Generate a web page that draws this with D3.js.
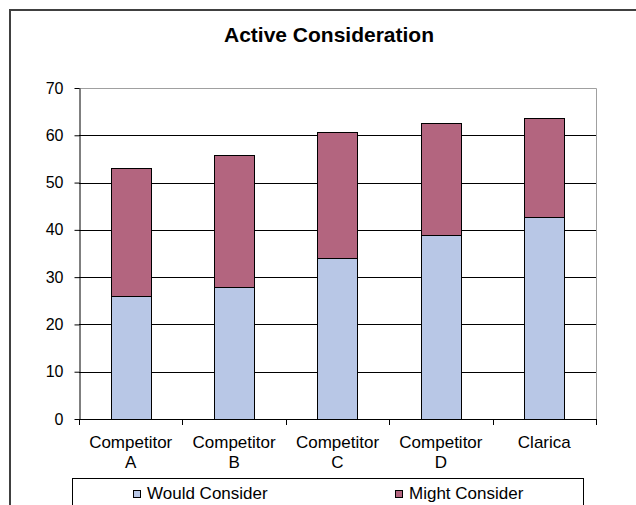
<!DOCTYPE html>
<html>
<head>
<meta charset="utf-8">
<script src="https://cdn.jsdelivr.net/npm/d3@7"></script>
<style>
  html, body { margin: 0; padding: 0; background: #fff; }
  svg { display: block; font-family: "Liberation Sans", Arial, sans-serif; }
</style>
</head>
<body>
<svg id="chart" width="636" height="505"></svg>
<script>
// Chart data
const categories = [["Competitor", "A"], ["Competitor", "B"], ["Competitor", "C"], ["Competitor", "D"], ["Clarica"]];
const wouldConsider = [26, 28, 34, 39, 42.8];
const mightConsider = [27, 27.8, 26.8, 23.6, 20.8];
const seriesNames = ["Would Consider", "Might Consider"];
const yTicks = [0, 10, 20, 30, 40, 50, 60, 70];
const title = "Active Consideration";

const colors = ["#b8c7e6", "#b3657f"];

const svg = d3.select("#chart");

// Outer frame of the chart (extends past the right and bottom edges)
svg.append("rect")
  .attr("x", 10).attr("y", 10)
  .attr("width", 700).attr("height", 600)
  .attr("fill", "#fff").attr("stroke", "#404040").attr("stroke-width", 2);

const plot = { left: 79, right: 596, top: 88, bottom: 419 };

const x = d3.scaleBand()
  .domain(d3.range(categories.length))
  .range([plot.left, plot.right])
  .paddingInner(0.61).paddingOuter(0.305);

const xOuter = d3.scaleBand()
  .domain(d3.range(categories.length))
  .range([plot.left, plot.right]);

const y = d3.scaleLinear().domain([0, 70]).range([plot.bottom, plot.top]);

// Title
svg.append("text")
  .attr("x", 329).attr("y", 42)
  .attr("text-anchor", "middle")
  .attr("font-size", 21).attr("font-weight", "bold")
  .attr("fill", "#000")
  .text(title);

// Plot area border (top and right in grey)
svg.append("path")
  .attr("d", `M${plot.left},${plot.top + 0.5}H${plot.right + 0.5}V${plot.bottom}`)
  .attr("fill", "none").attr("stroke", "#a0a0a0").attr("stroke-width", 1);

// Horizontal gridlines
svg.append("g")
  .selectAll("line")
  .data(yTicks.filter(t => t > 0 && t < 70))
  .join("line")
  .attr("x1", plot.left).attr("x2", plot.right)
  .attr("y1", d => Math.round(y(d)) + 0.5).attr("y2", d => Math.round(y(d)) + 0.5)
  .attr("stroke", "#000").attr("stroke-width", 1);

// Stacked bars
const stackData = categories.map((c, i) => ({ i, would: wouldConsider[i], might: mightConsider[i] }));
const stack = d3.stack().keys(["would", "might"])(stackData);

svg.append("g")
  .selectAll("g")
  .data(stack)
  .join("g")
  .attr("fill", (d, k) => colors[k])
  .selectAll("rect")
  .data(d => d)
  .join("rect")
  .attr("x", d => Math.round(x(d.data.i)) + 0.5)
  .attr("width", Math.round(x.bandwidth()))
  .attr("y", d => Math.round(y(d[1])) + 0.5)
  .attr("height", d => Math.round(y(d[0])) - Math.round(y(d[1])))
  .attr("stroke", "#000").attr("stroke-width", 1);

// Y axis
const yAxis = d3.axisLeft(y).tickValues(yTicks).tickSize(5).tickPadding(11).tickSizeOuter(0);
const gy = svg.append("g")
  .attr("transform", `translate(${plot.left + 0.5},0)`)
  .call(yAxis);
gy.select(".domain").attr("stroke", "#000");
gy.selectAll(".tick line").attr("stroke", "#000");
gy.selectAll(".tick text")
  .attr("font-size", 16).attr("fill", "#000")
  .attr("font-family", "Liberation Sans, Arial, sans-serif");

// X axis line and boundary ticks
svg.append("line")
  .attr("x1", plot.left).attr("x2", plot.right + 1)
  .attr("y1", plot.bottom + 0.5).attr("y2", plot.bottom + 0.5)
  .attr("stroke", "#000");
const bounds = d3.range(categories.length + 1).map(i => i < categories.length ? xOuter(i) : plot.right);
svg.append("g")
  .selectAll("line")
  .data(bounds)
  .join("line")
  .attr("x1", d => Math.round(d) + 0.5).attr("x2", d => Math.round(d) + 0.5)
  .attr("y1", plot.bottom).attr("y2", plot.bottom + 6)
  .attr("stroke", "#000");

// Category labels
const labels = svg.append("g")
  .selectAll("text")
  .data(categories)
  .join("text")
  .attr("x", (d, i) => xOuter(i) + xOuter.bandwidth() / 2)
  .attr("y", 448)
  .attr("text-anchor", "middle")
  .attr("font-size", 17).attr("fill", "#000");
labels.selectAll("tspan")
  .data(d => d)
  .join("tspan")
  .attr("x", function () { return d3.select(this.parentNode).attr("x"); })
  .attr("dy", (d, j) => j === 0 ? 0 : 20)
  .text(d => d);

// Legend
svg.append("rect")
  .attr("x", 72.5).attr("y", 478.5)
  .attr("width", 511).attr("height", 60)
  .attr("fill", "#fff").attr("stroke", "#000").attr("stroke-width", 1);

const legendX = [133, 395];
const legend = svg.append("g")
  .selectAll("g")
  .data(seriesNames)
  .join("g")
  .attr("transform", (d, i) => `translate(${legendX[i]},0)`);
legend.append("rect")
  .attr("x", 0.5).attr("y", 490.5)
  .attr("width", 7).attr("height", 7)
  .attr("fill", (d, i) => colors[i])
  .attr("stroke", "#000").attr("stroke-width", 1);
legend.append("text")
  .attr("x", 14).attr("y", 499)
  .attr("font-size", 17).attr("fill", "#000")
  .text(d => d);
</script>
</body>
</html>
